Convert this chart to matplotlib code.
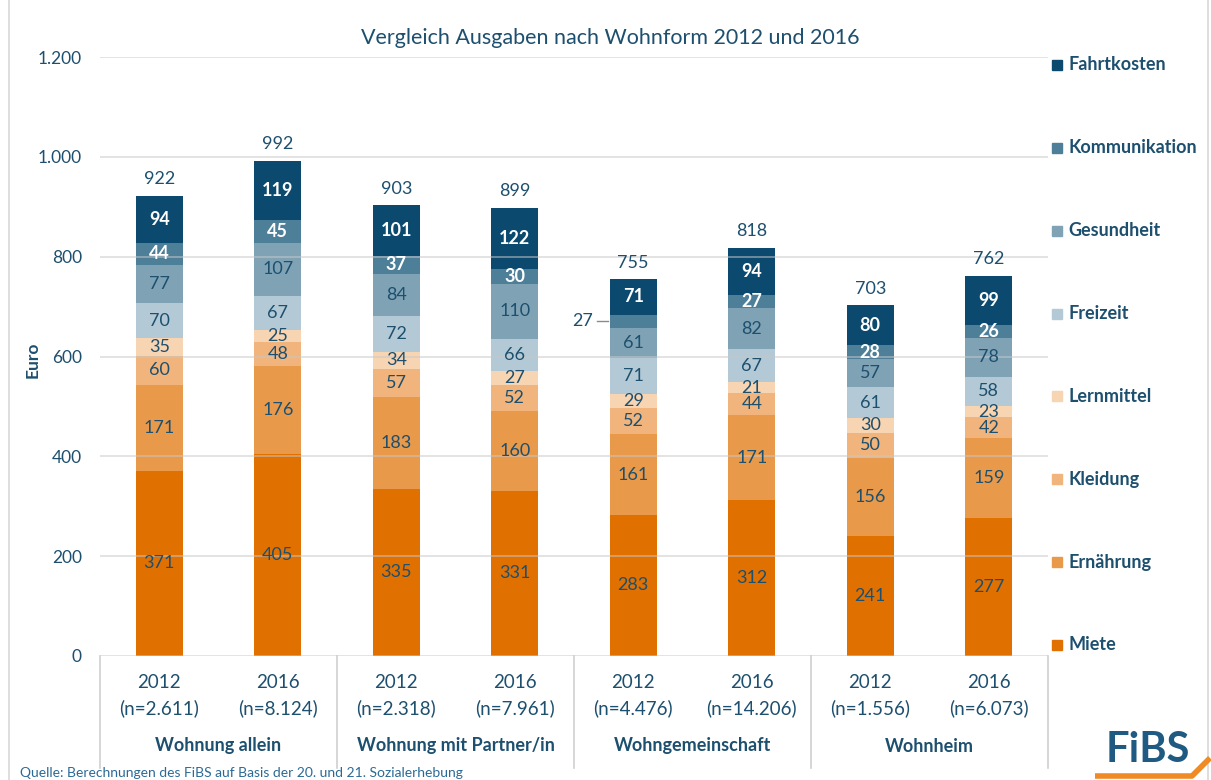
import matplotlib
matplotlib.use('Agg')
import matplotlib.pyplot as plt
from matplotlib.patches import Rectangle
from matplotlib.lines import Line2D
from matplotlib.transforms import blended_transform_factory
import numpy as np

plt.rcParams['font.family'] = ['Lato', 'DejaVu Sans']

# ---------------- data ----------------
groups = ['Wohnung allein', 'Wohnung mit Partner/in', 'Wohngemeinschaft', 'Wohnheim']
years = ['2012', '2016', '2012', '2016', '2012', '2016', '2012', '2016']
sample_n = ['(n=2.611)', '(n=8.124)', '(n=2.318)', '(n=7.961)',
            '(n=4.476)', '(n=14.206)', '(n=1.556)', '(n=6.073)']
categories = ['Miete', 'Ernährung', 'Kleidung', 'Lernmittel',
              'Freizeit', 'Gesundheit', 'Kommunikation', 'Fahrtkosten']
miete = [371, 405, 335, 331, 283, 312, 241, 277]
ernaehrung = [171, 176, 183, 160, 161, 171, 156, 159]
kleidung = [60, 48, 57, 52, 52, 44, 50, 42]
lernmittel = [35, 25, 34, 27, 29, 21, 30, 23]
freizeit = [70, 67, 72, 66, 71, 67, 61, 58]
gesundheit = [77, 107, 84, 110, 61, 82, 57, 78]
kommunikation = [44, 45, 37, 30, 27, 27, 28, 26]
fahrtkosten = [94, 119, 101, 122, 71, 94, 80, 99]
totals = [922, 992, 903, 899, 755, 818, 703, 762]
yticks = [0, 200, 400, 600, 800, 1000, 1200]
ytick_labels = ['0', '200', '400', '600', '800', '1.000', '1.200']
title = 'Vergleich Ausgaben nach Wohnform 2012 und 2016'
source = 'Quelle: Berechnungen des FiBS auf Basis der 20. und 21. Sozialerhebung'

series = [miete, ernaehrung, kleidung, lernmittel, freizeit, gesundheit,
          kommunikation, fahrtkosten]

# ---------------- style ----------------
colors = ['#E07000', '#E9994A', '#F0B47C', '#F7D4B2',
          '#B3CAD6', '#7FA3B5', '#4E7F98', '#0B4A6E']
text_colors = ['#1d4f6e'] * 6 + ['white', 'white']
DARK = '#1d4f6e'
outside_labels = [(4, 6)]  # (bar index, category index) labelled outside

W, H = 1211, 780
fig = plt.figure(figsize=(W / 100, H / 100), dpi=100)
fig.patch.set_facecolor('white')

def fx(px):
    return px / W

def fy(py):
    return 1 - py / H

ax = fig.add_axes([fx(100), fy(656), fx(1048) - fx(100), fy(57) - fy(656)])
x = np.arange(len(years))
bw = 0.4
bottom = np.zeros(len(years))
for ci, (vals, col) in enumerate(zip(series, colors)):
    vals = np.array(vals, dtype=float)
    ax.bar(x, vals, bw, bottom=bottom, color=col, zorder=2, linewidth=0)
    for i, v in enumerate(vals):
        if (i, ci) in outside_labels:
            yc = bottom[i] + v / 2
            ax.plot([x[i] - 0.31, x[i] - bw / 2 - 0.01], [yc, yc],
                    color='#8a8a8a', lw=1, zorder=4)
            ax.text(x[i] - 0.43, yc, f'{int(v)}', ha='center', va='center',
                    fontsize=13, color=DARK, zorder=5)
        else:
            ax.text(x[i], bottom[i] + v / 2, f'{int(v)}', ha='center',
                    va='center', fontsize=13, color=text_colors[ci],
                    fontweight='bold' if ci >= 6 else 'normal', zorder=5)
    bottom += vals

for i, t in enumerate(totals):
    ax.annotate(f'{t}', (x[i], bottom[i]), xytext=(0, 6),
                textcoords='offset points', ha='center', va='bottom',
                fontsize=13, color=DARK)

ax.set_xlim(-0.5, len(years) - 0.5)
ax.set_ylim(0, 1200)
ax.set_yticks(yticks)
ax.set_yticklabels(ytick_labels)
ax.tick_params(axis='y', length=0, pad=13, labelsize=12.5, labelcolor=DARK)
ax.set_xticks([])
for s in ax.spines.values():
    s.set_visible(False)
ax.grid(axis='y', color='#c8c8c8', lw=1.2, alpha=0.6, zorder=3)
ax.set_axisbelow(False)

# x-axis labels
tr = blended_transform_factory(ax.transData, fig.transFigure)
for i in range(len(years)):
    ax.text(x[i], fy(683), years[i], transform=tr, ha='center', va='center',
            fontsize=13.5, color=DARK)
    ax.text(x[i], fy(708), sample_n[i], transform=tr, ha='center',
            va='center', fontsize=13.5, color=DARK)
for gi, g in enumerate(groups):
    ax.text(gi * 2 + 0.5, fy(746), g, transform=tr, ha='center', va='center',
            fontsize=13, color=DARK, fontweight='bold')
for sx in np.arange(-0.5, len(years), 2):
    ax.plot([sx, sx], [fy(656), fy(768)], transform=tr, color='#d0d0d0',
            lw=1.2, clip_on=False)

# title, axis label
fig.text(fx(610), fy(38), title, ha='center', va='center', fontsize=15.5,
         color=DARK)
fig.text(fx(33), fy(360), 'Euro', rotation=90, ha='center', va='center',
         fontsize=12.5, color=DARK, fontweight='bold')

# legend
for k in range(len(categories)):
    ci = len(categories) - 1 - k
    yc = 65 + k * (645 - 65) / 7
    fig.patches.append(Rectangle((fx(1052), fy(yc + 5)), fx(10), 10 / H,
                                 transform=fig.transFigure, color=colors[ci]))
    fig.text(fx(1068), fy(yc), categories[ci], ha='left', va='center',
             fontsize=13, color=DARK, fontweight='bold')

# frame lines
fig.lines.append(Line2D([fx(9), fx(9)], [0, 1], transform=fig.transFigure,
                        color='#d8d8d8', lw=1.2))
fig.lines.append(Line2D([fx(1208), fx(1208)], [0, 1],
                        transform=fig.transFigure, color='#d8d8d8', lw=1.2))

# source and logo
fig.text(fx(20), fy(773), source, ha='left', va='center', fontsize=10,
         color='#2a6a96')
fig.text(fx(1148), fy(750), 'FiBS', ha='center', va='center', fontsize=30,
         fontweight='bold', color='#1f5a82')
fig.lines.append(Line2D([fx(1095), fx(1192), fx(1210)],
                        [fy(776), fy(776), fy(758)],
                        transform=fig.transFigure, color='#F08A24', lw=4,
                        solid_capstyle='butt'))

fig.savefig('out.png', dpi=100)
